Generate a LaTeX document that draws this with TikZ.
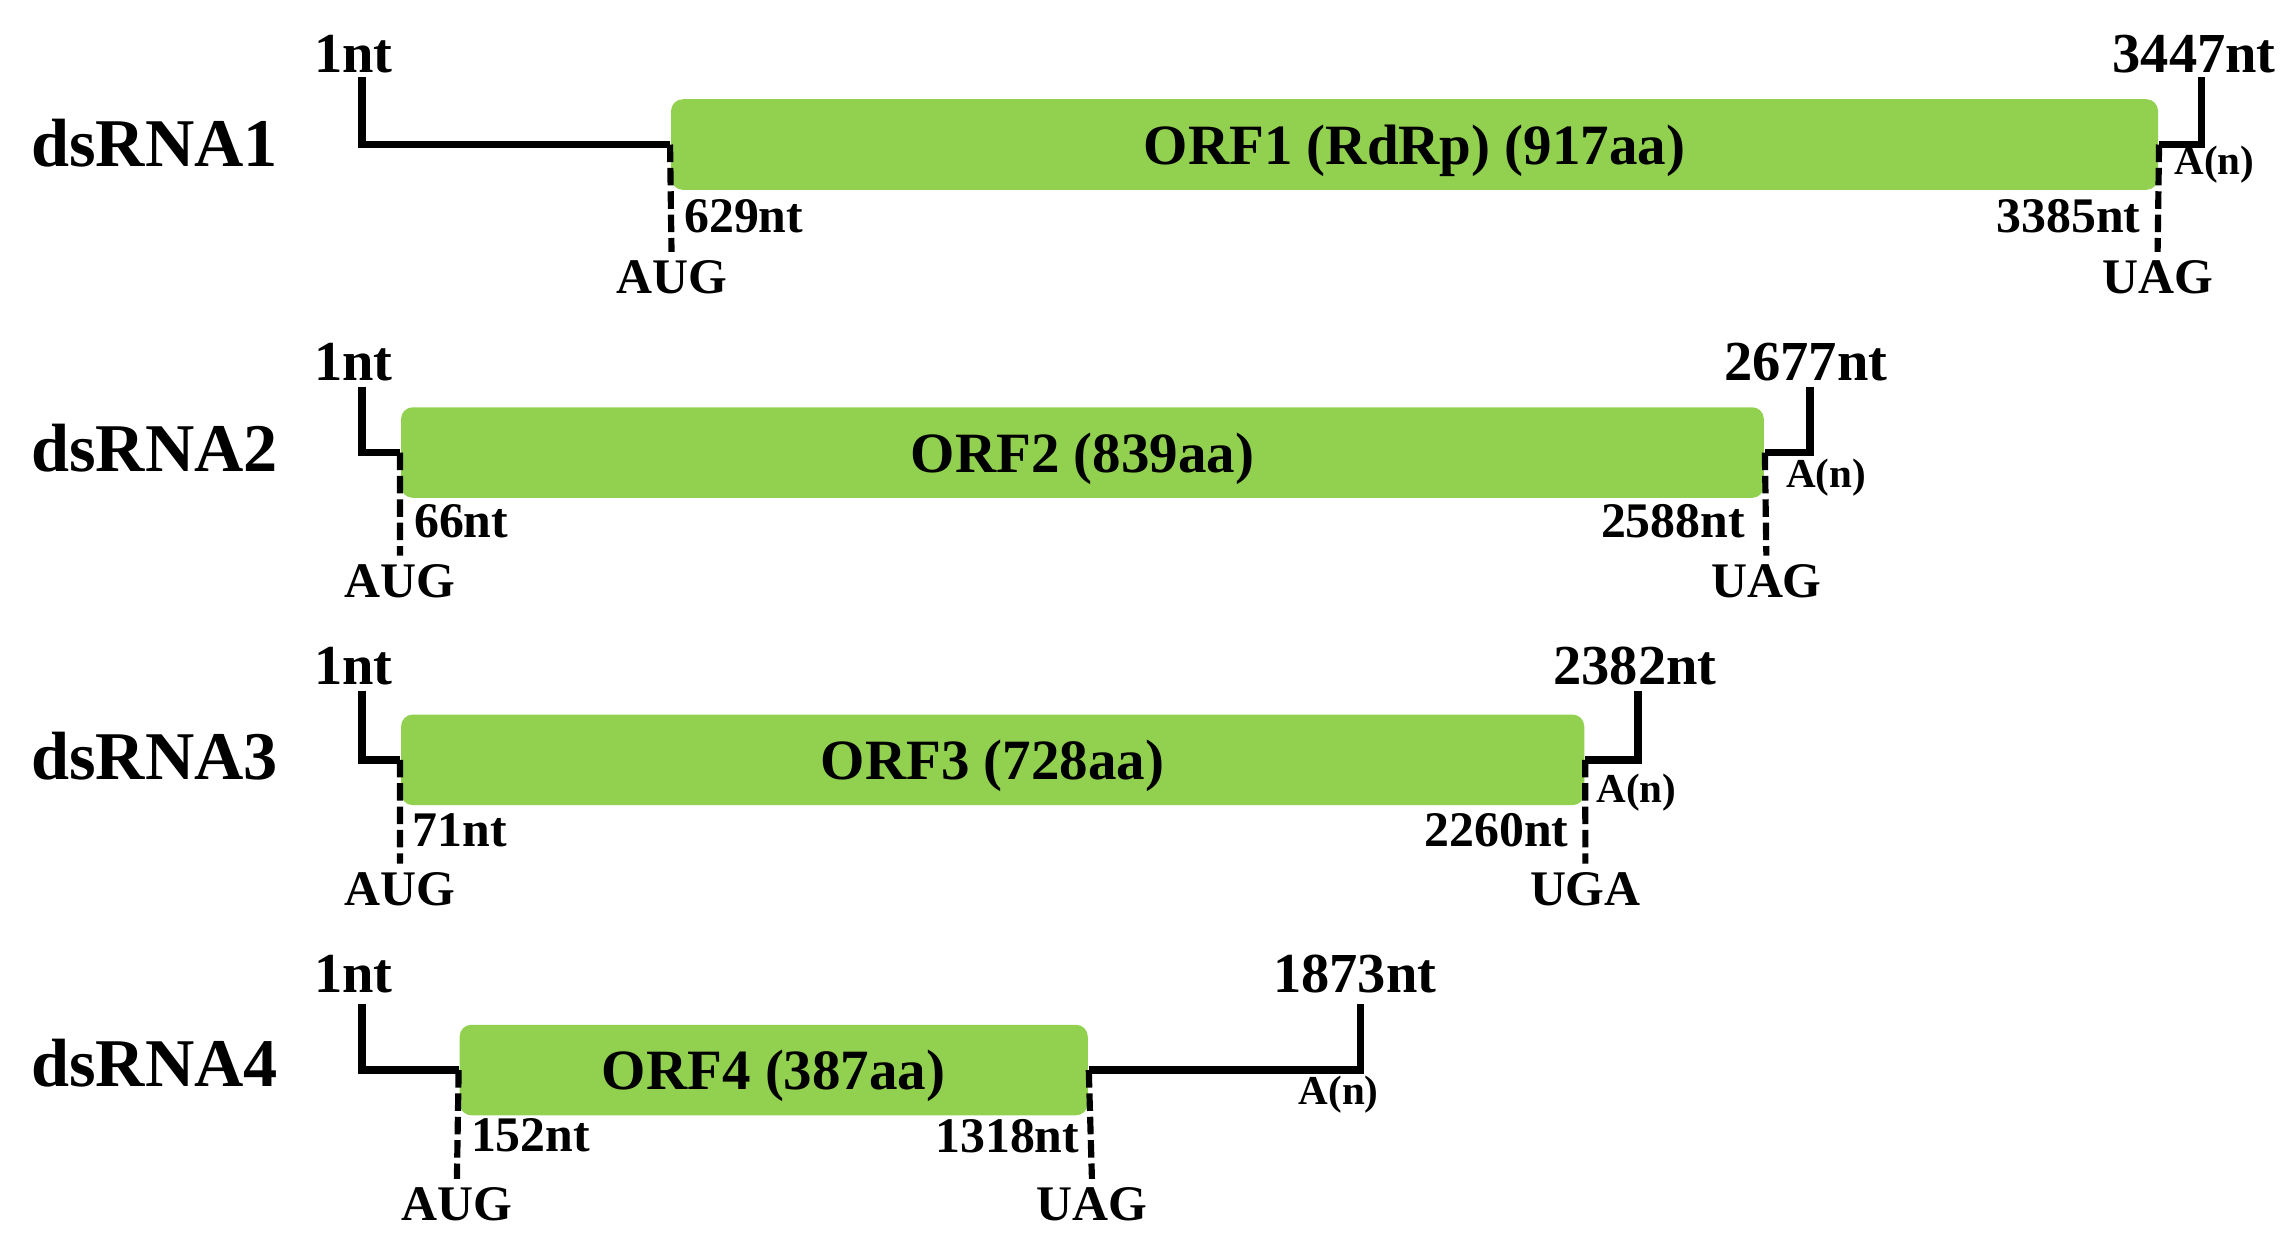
\documentclass[tikz,border=0pt]{standalone}
\usepackage{fontspec}
\setmainfont{Liberation Serif}
\definecolor{orfgreen}{HTML}{92D050}
\begin{document}
\begin{tikzpicture}[x=0.01cm,y=-0.01cm,
  rna/.style={inner sep=0pt, font=\fontsize{13.3pt}{15pt}\selectfont\bfseries},
  endlbl/.style={inner sep=0pt, font=\fontsize{11pt}{13pt}\selectfont\bfseries},
  orf/.style={fill=orfgreen, rounded corners=0.08cm, minimum height=0.62cm, inner sep=0pt,
              text depth=0pt, font=\fontsize{11.1pt}{13pt}\selectfont\bfseries},
  poslbl/.style={inner sep=0pt, font=\fontsize{9.7pt}{11pt}\selectfont\bfseries},
  codon/.style={inner sep=1.5pt, font=\fontsize{9.7pt}{11pt}\selectfont\bfseries},
  polya/.style={inner sep=0pt, font=\fontsize{8pt}{9pt}\selectfont\bfseries},
  seqline/.style={line width=1.5pt, line join=miter},
  dashline/.style={line width=1.2pt, dash pattern=on 0.12cm off 0.04cm}]
\useasboundingbox (0,0) rectangle (1568,851);

% ---------- dsRNA1 ----------
\node[rna] (r1) at (106,98) {dsRNA1};
\node[orf, minimum width=10.18cm] (o1) at (969,99) {ORF1 (RdRp) (917aa)};
\node[endlbl] (n1a) at (242,37) {1nt};
\node[endlbl] (n1b) at (1503,37) {3447nt};
\coordinate (s1) at (248,53);
\coordinate (e1) at (1508,53);
\node[poslbl, anchor=west] (p1a) at (468,148) {629nt};
\node[poslbl, anchor=east] (p1b) at (1467,148) {3385nt};
\node[codon] (c1a) at (460,190) {AUG};
\node[codon] (c1b) at (1478,190) {UAG};
\node[polya] (a1) at (1517,113) {A(n)};
\draw[dashline] (o1.west) -- (c1a.north);
\draw[dashline] (o1.east) -- (c1b.north);
\draw[seqline] (s1) |- (o1.west);
\draw[seqline] (o1.east) -| (e1);

% ---------- dsRNA2 ----------
\node[rna] (r2) at (106,307) {dsRNA2};
\node[orf, minimum width=9.33cm] (o2) at (741.5,310) {ORF2 (839aa)};
\node[endlbl] (n2a) at (242,248) {1nt};
\node[endlbl] (n2b) at (1237,248) {2677nt};
\coordinate (s2) at (248,265);
\coordinate (e2) at (1240,265);
\node[poslbl, anchor=west] (p2a) at (283,357) {66nt};
\node[poslbl, anchor=east] (p2b) at (1196,357) {2588nt};
\node[codon] (c2a) at (274,398) {AUG};
\node[codon] (c2b) at (1210,398) {UAG};
\node[polya] (a2) at (1251,327) {A(n)};
\draw[dashline] (o2.west) -- (c2a.north);
\draw[dashline] (o2.east) -- (c2b.north);
\draw[seqline] (s2) |- (o2.west);
\draw[seqline] (o2.east) -| (e2);

% ---------- dsRNA3 ----------
\node[rna] (r3) at (106,518) {dsRNA3};
\node[orf, minimum width=8.10cm] (o3) at (680,520.5) {ORF3 (728aa)};
\node[endlbl] (n3a) at (242,456) {1nt};
\node[endlbl] (n3b) at (1120,456) {2382nt};
\coordinate (s3) at (248,473);
\coordinate (e3) at (1122,473);
\node[poslbl, anchor=west] (p3a) at (282,569) {71nt};
\node[poslbl, anchor=east] (p3b) at (1075,569) {2260nt};
\node[codon] (c3a) at (274,609) {AUG};
\node[codon] (c3b) at (1086,609) {UGA};
\node[polya] (a3) at (1121,543) {A(n)};
\draw[dashline] (o3.west) -- (c3a.north);
\draw[dashline] (o3.east) -- (c3b.north);
\draw[seqline] (s3) |- (o3.west);
\draw[seqline] (o3.east) -| (e3);

% ---------- dsRNA4 ----------
\node[rna] (r4) at (106,728) {dsRNA4};
\node[orf, minimum width=4.30cm] (o4) at (530,733) {ORF4 (387aa)};
\node[endlbl] (n4a) at (242,667) {1nt};
\node[endlbl] (n4b) at (928,667) {1873nt};
\coordinate (s4) at (248,688);
\coordinate (e4) at (932,688);
\node[poslbl, anchor=west] (p4a) at (322,778) {152nt};
\node[poslbl, anchor=east] (p4b) at (740,778) {1318nt};
\node[codon] (c4a) at (313,825) {AUG};
\node[codon] (c4b) at (748,825) {UAG};
\node[polya] (a4) at (917,750) {A(n)};
\draw[dashline] (o4.west) -- (c4a.north);
\draw[dashline] (o4.east) -- (c4b.north);
\draw[seqline] (s4) |- (o4.west);
\draw[seqline] (o4.east) -| (e4);
\end{tikzpicture}
\end{document}
